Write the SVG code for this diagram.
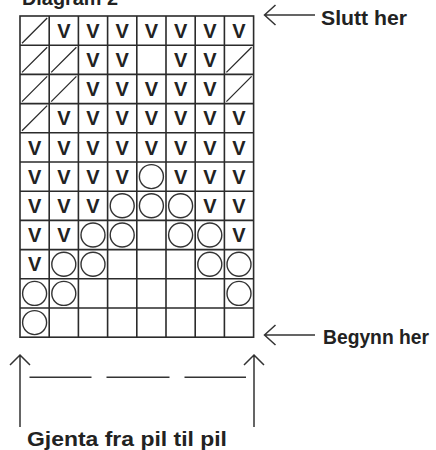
<svg xmlns="http://www.w3.org/2000/svg" width="436" height="450" viewBox="0 0 436 450">
<style>
.bg{fill:#ffffff}
.grid{stroke:#2b2b2b;stroke-width:1.6;fill:none}
.diag{stroke:#2b2b2b;stroke-width:1.3}
.v{font-family:"Liberation Sans",Arial,sans-serif;font-weight:bold;font-size:20px;fill:#222;text-anchor:middle}
.o{fill:none;stroke:#333;stroke-width:1.4}
.lbl{font-family:"Liberation Sans",Arial,sans-serif;font-weight:bold;font-size:20px;fill:#222}
.arr{stroke:#333;stroke-width:1.5;fill:none}
</style>
<rect class="bg" x="0" y="0" width="436" height="450"/>
<text id="title" class="lbl" x="22" y="5" textLength="96" lengthAdjust="spacingAndGlyphs">Diagram 2</text>
<g id="grid">
<rect class="grid" x="20" y="16" width="233.6" height="321.2"/>
<path class="grid" d="M49.2 16V337.2M78.4 16V337.2M107.6 16V337.2M136.8 16V337.2M166 16V337.2M195.2 16V337.2M224.4 16V337.2M20 45.2H253.6M20 74.4H253.6M20 103.6H253.6M20 132.8H253.6M20 162H253.6M20 191.2H253.6M20 220.4H253.6M20 249.6H253.6M20 278.8H253.6M20 308H253.6"/>
</g>
<g id="diagonals">
<path class="diag" d="M22 43.2L47.2 18M22 72.4L47.2 47.2M51.2 72.4L76.4 47.2M22 101.6L47.2 76.4M51.2 101.6L76.4 76.4M226.4 72.4L251.6 47.2M226.4 101.6L251.6 76.4M22 130.8L47.2 105.6"/>
</g>
<g id="v-stitches">
<text class="v" x="63.8" y="37.8">V</text><text class="v" x="93" y="37.8">V</text><text class="v" x="122.2" y="37.8">V</text><text class="v" x="151.4" y="37.8">V</text><text class="v" x="180.6" y="37.8">V</text><text class="v" x="209.8" y="37.8">V</text><text class="v" x="239" y="37.8">V</text>
<text class="v" x="93" y="67">V</text><text class="v" x="122.2" y="67">V</text><text class="v" x="180.6" y="67">V</text><text class="v" x="209.8" y="67">V</text>
<text class="v" x="93" y="96.2">V</text><text class="v" x="122.2" y="96.2">V</text><text class="v" x="151.4" y="96.2">V</text><text class="v" x="180.6" y="96.2">V</text><text class="v" x="209.8" y="96.2">V</text>
<text class="v" x="63.8" y="125.4">V</text><text class="v" x="93" y="125.4">V</text><text class="v" x="122.2" y="125.4">V</text><text class="v" x="151.4" y="125.4">V</text><text class="v" x="180.6" y="125.4">V</text><text class="v" x="209.8" y="125.4">V</text><text class="v" x="239" y="125.4">V</text>
<text class="v" x="34.6" y="154.6">V</text><text class="v" x="63.8" y="154.6">V</text><text class="v" x="93" y="154.6">V</text><text class="v" x="122.2" y="154.6">V</text><text class="v" x="151.4" y="154.6">V</text><text class="v" x="180.6" y="154.6">V</text><text class="v" x="209.8" y="154.6">V</text><text class="v" x="239" y="154.6">V</text>
<text class="v" x="34.6" y="183.8">V</text><text class="v" x="63.8" y="183.8">V</text><text class="v" x="93" y="183.8">V</text><text class="v" x="122.2" y="183.8">V</text><text class="v" x="180.6" y="183.8">V</text><text class="v" x="209.8" y="183.8">V</text><text class="v" x="239" y="183.8">V</text>
<text class="v" x="34.6" y="213">V</text><text class="v" x="63.8" y="213">V</text><text class="v" x="93" y="213">V</text><text class="v" x="209.8" y="213">V</text><text class="v" x="239" y="213">V</text>
<text class="v" x="34.6" y="242.2">V</text><text class="v" x="63.8" y="242.2">V</text><text class="v" x="239" y="242.2">V</text>
<text class="v" x="34.6" y="271.4">V</text>
</g>
<g id="o-stitches">
<circle class="o" cx="151.4" cy="176.6" r="12"/>
<circle class="o" cx="122.2" cy="205.8" r="12"/><circle class="o" cx="151.4" cy="205.8" r="12"/><circle class="o" cx="180.6" cy="205.8" r="12"/>
<circle class="o" cx="93" cy="235" r="12"/><circle class="o" cx="122.2" cy="235" r="12"/><circle class="o" cx="180.6" cy="235" r="12"/><circle class="o" cx="209.8" cy="235" r="12"/>
<circle class="o" cx="63.8" cy="264.2" r="12"/><circle class="o" cx="93" cy="264.2" r="12"/><circle class="o" cx="209.8" cy="264.2" r="12"/><circle class="o" cx="239" cy="264.2" r="12"/>
<circle class="o" cx="34.6" cy="293.4" r="12"/><circle class="o" cx="63.8" cy="293.4" r="12"/><circle class="o" cx="239" cy="293.4" r="12"/>
<circle class="o" cx="34.6" cy="322.6" r="12"/>
</g>
<g id="connectors">
<path class="arr" d="M264.5 15H315M275.5 5L264.5 15L275.5 25"/>
<path class="arr" d="M264.5 335H315M275.5 325L264.5 335L275.5 345"/>
<path class="arr" d="M20 355V427M10 365L20 355L30 365"/>
<path class="arr" d="M254 355V427M244 365L254 355L264 365"/>
<path class="arr" d="M29.5 377.3H91.5M106.5 377.3H169.5M184.5 377.3H246"/>
</g>
<g id="label-slutt"><text class="lbl" x="321" y="25" textLength="86" lengthAdjust="spacingAndGlyphs">Slutt her</text></g>
<g id="label-begynn"><text class="lbl" x="323" y="344" textLength="106" lengthAdjust="spacingAndGlyphs">Begynn her</text></g>
<g id="label-gjenta"><text class="lbl" x="27" y="445.5" textLength="200" lengthAdjust="spacingAndGlyphs">Gjenta fra pil til pil</text></g>
</svg>
